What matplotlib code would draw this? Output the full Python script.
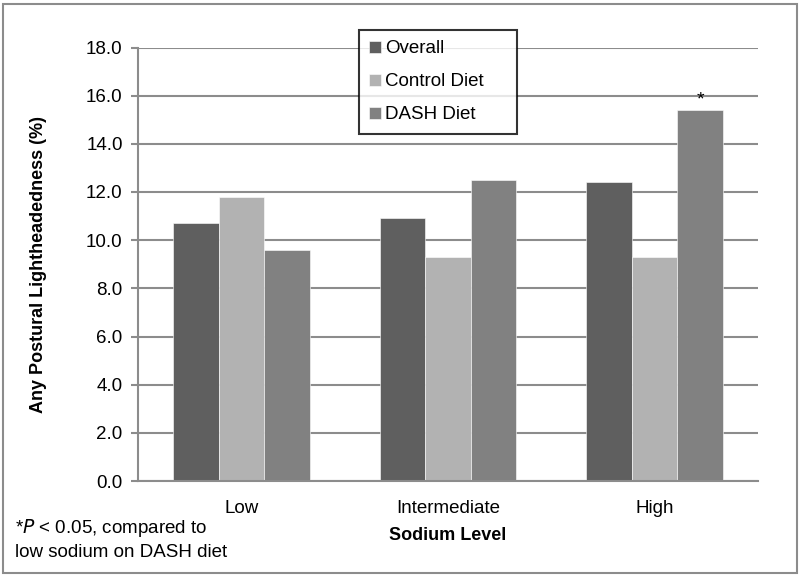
import numpy as np
import matplotlib.pyplot as plt
import matplotlib.patches as patches

plt.rcParams['font.family'] = ['Liberation Sans', 'DejaVu Sans']

categories = ['Low', 'Intermediate', 'High']
series_names = ['Overall', 'Control Diet', 'DASH Diet']
overall = [10.7, 10.9, 12.4]
control = [11.8, 9.3, 9.3]
dash = [9.6, 12.5, 15.4]
colors = ['#5f5f5f', '#b2b2b2', '#818181']
yticks = np.arange(0, 18.1, 2.0)

fig = plt.figure(figsize=(8, 5.76), dpi=100)
ax = fig.add_axes([138/800, 1-481/576, (758-138)/800, (481-47.5)/576])

x = np.arange(len(categories))
width = 0.22
for i, (vals, name) in enumerate(zip([overall, control, dash], series_names)):
    ax.bar(x + (i-1)*width, vals, width, color=colors[i], label=name,
           edgecolor='white', linewidth=0.4, zorder=2)

# significance marker on high-sodium DASH bar
ax.text(x[2] + width, dash[2] + 0.05, '*', ha='center', va='bottom', fontsize=14)

ax.set_xlim(-0.5, 2.5)
ax.set_ylim(0, 18)
ax.set_yticks(yticks)
ax.set_yticklabels(['%.1f' % v for v in yticks], fontsize=13.5)
ax.set_xticks(x)
ax.set_xticklabels(categories, fontsize=13.5)
ax.tick_params(axis='x', length=0, pad=14)
ax.tick_params(axis='y', length=5, width=1.5, color='#8c8c8c', pad=6)
ax.yaxis.grid(True, color='#8c8c8c', linewidth=1.5, zorder=0)
for s in ['top', 'right']:
    ax.spines[s].set_visible(False)
for s in ['left', 'bottom']:
    ax.spines[s].set_color('#8c8c8c')
    ax.spines[s].set_linewidth(1.5)

ax.set_ylabel('Any Postural Lightheadedness (%)', fontsize=13, fontweight='bold', labelpad=28)
ax.set_xlabel('Sodium Level', fontsize=13, fontweight='bold', labelpad=7)

# legend box spans fixed width like the original
lx0 = (359-138)/620
lw = (517-359)/620
ly1 = (481-30)/433.5
lh = (127-30)/433.5
leg = ax.legend(loc='upper left', bbox_to_anchor=(lx0, ly1 - lh, lw, lh), mode='expand',
                fontsize=13.5, frameon=True, fancybox=False, edgecolor='black',
                handlelength=0.6, handleheight=0.6, handletextpad=0.25,
                labelspacing=0.85, borderpad=0.55, borderaxespad=0)
leg.get_frame().set_linewidth(1.5)
leg.set_zorder(5)

fig.text(15/800, 1-539/576, '*$\\it{P}$ < 0.05, compared to\nlow sodium on DASH diet',
         fontsize=13.5, va='center', ha='left', linespacing=1.35)

# outer frame
fig.patches.append(patches.Rectangle((3/800, 3/576), 794/800, 569/576,
                                     transform=fig.transFigure, fill=False,
                                     edgecolor='#8c8c8c', linewidth=1.5))

fig.savefig('out.png', dpi=100)
